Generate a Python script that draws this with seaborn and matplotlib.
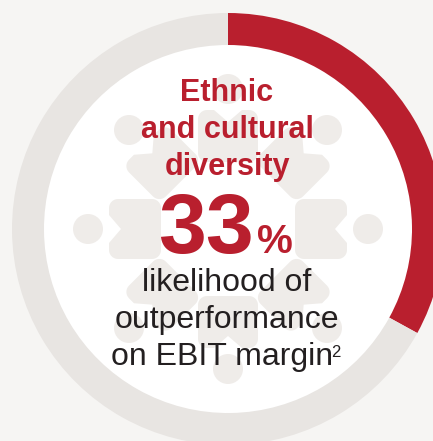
import numpy as np
import matplotlib
matplotlib.use("Agg")
import matplotlib.pyplot as plt
import seaborn as sns
from matplotlib.patches import Circle, Polygon

# ---- data ----
segments = ["Outperformance likelihood", "Remainder"]
values = [33, 67]
headline_lines = ["Ethnic", "and cultural", "diversity"]
value_label = "33"
unit_label = "%"
caption_lines = ["likelihood of", "outperformance", "on EBIT margin"]
footnote_mark = "2"

# ---- style ----
BG = "#f6f5f3"
RED = "#b91f2e"
GRAY = "#e8e5e2"
SHAPE = "#efece9"
INK = "#231f20"

sns.set_theme(style="white")
plt.rcParams['font.family'] = ['Liberation Sans', 'DejaVu Sans']

W, H = 433, 441
fig = plt.figure(figsize=(W / 100, H / 100), dpi=100, facecolor=BG)
ax = fig.add_axes([0, 0, 1, 1])
ax.set_facecolor(BG)

def Y(y):
    return H - y

cx, cy = 228, Y(229)
R_out, R_in = 216, 184

# white disc inside ring
ax.add_patch(Circle((cx, cy), R_in + 1, facecolor="white", edgecolor="none", zorder=0.5))

# ring (donut)
ax.pie(values, colors=[RED, GRAY], startangle=90, counterclock=False,
       center=(cx, cy), radius=R_out,
       wedgeprops=dict(width=R_out - R_in, linewidth=0), frame=False)

ax.set_xlim(0, W)
ax.set_ylim(0, H)
ax.set_aspect("auto")
ax.axis("off")

# ---- decorative snowflake motif ----
def notched_shape(theta_deg, dist, hu=26, hv=30, r=9, nh=14, nd=12):
    pts = []
    def arc(cu, cv, a0, a1):
        for a in np.linspace(np.radians(a0), np.radians(a1), 8):
            pts.append((cu + r * np.cos(a), cv + r * np.sin(a)))
    pts.append((hu, nh))
    arc(hu - r, hv - r, 0, 90)
    arc(-hu + r, hv - r, 90, 180)
    arc(-hu + r, -hv + r, 180, 270)
    arc(hu - r, -hv + r, 270, 360)
    pts.append((hu, -nh))
    pts.append((hu - nd, 0))
    pts = np.array(pts)
    t = np.radians(theta_deg)
    ox, oy = cx + dist * np.cos(t), cy + dist * np.sin(t)
    gx = ox + pts[:, 0] * np.cos(t) - pts[:, 1] * np.sin(t)
    gy = oy + pts[:, 0] * np.sin(t) + pts[:, 1] * np.cos(t)
    return np.column_stack([gx, gy])

for k in range(8):
    th = k * 45
    ax.add_patch(Polygon(notched_shape(th, 93), closed=True, facecolor=SHAPE,
                         edgecolor="none", zorder=2))
    t = np.radians(th)
    ax.add_patch(Circle((cx + 140 * np.cos(t), cy + 140 * np.sin(t)), 15,
                        facecolor=SHAPE, edgecolor="none", zorder=2))

# ---- text ----
tx = 227
for line, yb in zip(headline_lines, [101, 138, 175]):
    ax.text(tx, Y(yb), line, ha="center", va="baseline", fontsize=22,
            fontweight="bold", color=RED, zorder=5)

ax.text(254, Y(253), value_label, ha="right", va="baseline", fontsize=62,
        fontweight="bold", color=RED, zorder=5)
ax.text(257, Y(253), unit_label, ha="left", va="baseline", fontsize=29,
        fontweight="bold", color=RED, zorder=5)

ax.text(tx, Y(291), caption_lines[0], ha="center", va="baseline", fontsize=23,
        color=INK, zorder=5)
ax.text(tx, Y(328), caption_lines[1], ha="center", va="baseline", fontsize=23,
        color=INK, zorder=5)
last = ax.text(222, Y(365), caption_lines[2], ha="center", va="baseline", fontsize=23,
               color=INK, zorder=5)

fig.canvas.draw()
bb = last.get_window_extent(renderer=fig.canvas.get_renderer())
x_right = ax.transData.inverted().transform((bb.x1, bb.y0))[0]
ax.text(x_right - 1.5, Y(357), footnote_mark, ha="left", va="baseline", fontsize=12,
        color=INK, zorder=5)

fig.savefig("out.png", dpi=100, facecolor=BG)
